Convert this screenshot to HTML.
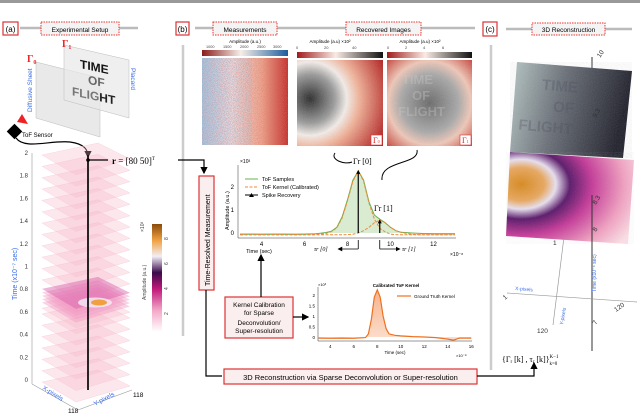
<!DOCTYPE html>
<html><head><meta charset="utf-8"><style>
html,body{margin:0;padding:0;background:#fff}
svg{display:block;font-family:"Liberation Sans",sans-serif}
</style></head><body>
<svg id="fig" width="640" height="415" viewBox="0 0 640 415" xmlns="http://www.w3.org/2000/svg">
<defs>
<filter id="noise" x="0" y="0" width="100%" height="100%"><feTurbulence type="fractalNoise" baseFrequency="0.9" numOctaves="2" seed="3"/><feColorMatrix type="saturate" values="0"/><feComponentTransfer><feFuncA type="table" tableValues="0 0.35"/></feComponentTransfer></filter>
<filter id="noise2" x="0" y="0" width="100%" height="100%"><feTurbulence type="fractalNoise" baseFrequency="1.2" numOctaves="1" seed="7"/><feColorMatrix type="matrix" values="0 0 0 0 0.75  0 0 0 0 0.15  0 0 0 0 0.15  1.4 0 0 0 -0.55"/></filter>
<filter id="noise3" x="0" y="0" width="100%" height="100%"><feTurbulence type="fractalNoise" baseFrequency="1.1" numOctaves="1" seed="11"/><feColorMatrix type="matrix" values="0 0 0 0 0.2  0 0 0 0 0.45  0 0 0 0 0.75  1.4 0 0 0 -0.6"/></filter>
<linearGradient id="measG" x1="0" x2="1"><stop offset="0" stop-color="#a9c8e0"/><stop offset="0.35" stop-color="#ece0e0"/><stop offset="0.7" stop-color="#eaa58c"/><stop offset="1" stop-color="#c0322c"/></linearGradient>
<linearGradient id="cbMeas" x1="0" x2="1"><stop offset="0" stop-color="#8c1a1a"/><stop offset="0.45" stop-color="#f5efe8"/><stop offset="1" stop-color="#1d5c9c"/></linearGradient>
<linearGradient id="cbRec" x1="0" x2="1"><stop offset="0" stop-color="#a01c1c"/><stop offset="0.45" stop-color="#f9ebe4"/><stop offset="1" stop-color="#111"/></linearGradient>
<radialGradient id="g0" cx="0.15" cy="0.45" r="0.95"><stop offset="0" stop-color="#2a2a2a"/><stop offset="0.3" stop-color="#9a9a9a"/><stop offset="0.45" stop-color="#f4eeea"/><stop offset="0.6" stop-color="#f2b49a"/><stop offset="1" stop-color="#b3201f"/></radialGradient>
<radialGradient id="g1" cx="0.5" cy="0.5" r="0.75"><stop offset="0" stop-color="#6a6a6a"/><stop offset="0.45" stop-color="#a8a8a8"/><stop offset="0.65" stop-color="#f0c8b8"/><stop offset="1" stop-color="#c02a22"/></radialGradient>
<linearGradient id="cbLeft" x1="0" y1="1" x2="0" y2="0"><stop offset="0" stop-color="#fff"/><stop offset="0.2" stop-color="#f3a8c8"/><stop offset="0.4" stop-color="#c0187a"/><stop offset="0.55" stop-color="#3a0a4a"/><stop offset="0.7" stop-color="#f2eef5"/><stop offset="0.85" stop-color="#f0a040"/><stop offset="1" stop-color="#8a4a08"/></linearGradient>
<linearGradient id="grayR" x1="0" x2="1" y1="0" y2="0.2"><stop offset="0" stop-color="#b8c8c6"/><stop offset="0.45" stop-color="#6a7078"/><stop offset="1" stop-color="#1e1e2a"/></linearGradient>
<radialGradient id="pinkR" cx="0.12" cy="0.35" r="1"><stop offset="0" stop-color="#d88a20"/><stop offset="0.18" stop-color="#e8a860"/><stop offset="0.27" stop-color="#e8e0f0"/><stop offset="0.38" stop-color="#5a1a6a"/><stop offset="0.55" stop-color="#c43a98"/><stop offset="0.8" stop-color="#f0a0c0"/><stop offset="1" stop-color="#fbe0e6"/></radialGradient>
<linearGradient id="kfill" x1="0" x2="0" y1="0" y2="1"><stop offset="0" stop-color="#f5a070"/><stop offset="1" stop-color="#fbd6c0"/></linearGradient>
<marker id="ah" markerWidth="6" markerHeight="6" refX="5" refY="3" orient="auto"><path d="M0,0 L6,3 L0,6z" fill="#000"/></marker>
</defs>
<rect width="640" height="415" fill="#fff"/>
<rect x="0" y="0" width="640" height="3" fill="#999"/>

<g font-size="8">
<line x1="20" y1="28" x2="138" y2="28" stroke="#bbb" stroke-width="2.5"/>
<rect x="3" y="22" width="15" height="13" fill="#fff" stroke="#d33" stroke-width="1.2"/><text x="10.5" y="32" text-anchor="middle" font-size="8">(a)</text>
<rect x="41" y="22" width="78" height="13" fill="#f4f4f4" stroke="#e33" stroke-dasharray="1.5,1"/><text x="80" y="32" text-anchor="middle" font-size="6.5">Experimental Setup</text>
<line x1="195" y1="28" x2="475" y2="28" stroke="#bbb" stroke-width="2.5"/>
<rect x="176" y="22" width="13" height="13" fill="#fff" stroke="#d33" stroke-width="1.2"/><text x="182.5" y="32" text-anchor="middle" font-size="8">(b)</text>
<rect x="213" y="22" width="64" height="13" fill="#f4f4f4" stroke="#e33" stroke-dasharray="1.5,1"/><text x="245" y="32" text-anchor="middle" font-size="6.5">Measurements</text>
<rect x="346" y="22" width="75" height="13" fill="#f4f4f4" stroke="#e33" stroke-dasharray="1.5,1"/><text x="383.5" y="32" text-anchor="middle" font-size="6.5">Recovered Images</text>
<line x1="506" y1="29" x2="632" y2="29" stroke="#bbb" stroke-width="2.5"/>
<rect x="483" y="22" width="14" height="14" fill="#fff" stroke="#d33" stroke-width="1.2"/><text x="490" y="32" text-anchor="middle" font-size="8">(c)</text>
<rect x="532" y="23" width="73" height="12" fill="#f4f4f4" stroke="#e33" stroke-dasharray="1.5,1"/><text x="568.5" y="32" text-anchor="middle" font-size="6.5">3D Reconstruction</text>
<line x1="183" y1="45" x2="183" y2="336" stroke="#ccc" stroke-width="2.5"/>
<line x1="491" y1="45" x2="491" y2="370" stroke="#ccc" stroke-width="2.5"/>
</g>

<g>
<polygon points="36,62 100,78 100,137 36,118" fill="#e4e4e4" fill-opacity="0.8" stroke="#bbb" stroke-width="0.5"/>
<polygon points="64,45 129,60 129,118 64,100" fill="#e8e8e8" fill-opacity="0.7" stroke="#bbb" stroke-width="0.5"/>
<g font-weight="bold" font-size="12" transform="skewY(12)">
<text x="80" y="51" fill="#111">TIME</text><text x="88" y="65" fill="#666">OF</text><text x="72" y="80" fill="#777">FLIG<tspan fill="#222">HT</tspan></text></g>
<text x="62" y="47" fill="#e22" font-family="Liberation Serif" font-size="10" font-weight="bold">Γ<tspan font-size="6" dy="2">1</tspan></text>
<text x="27" y="62" fill="#e22" font-family="Liberation Serif" font-size="10" font-weight="bold">Γ<tspan font-size="6" dy="2">0</tspan></text>
<text transform="translate(32,112) rotate(-90)" fill="#3a6ee8" font-size="6.5">Diffusive Sheet</text>
<text transform="translate(131,68) rotate(90)" fill="#3a6ee8" font-size="6.5">Placard</text>
<polygon points="17,122 22,114 28,124" fill="#e22"/>
<rect x="9" y="126" width="11" height="11" transform="rotate(45 14.5 131.5)" fill="#000"/>
<text x="22" y="137" font-size="6">ToF Sensor</text>
<path d="M16,138 C25,150 50,140 70,142 C85,144 88,150 88,157" stroke="#000" fill="none" stroke-width="1.2" marker-end="url(#ah)"/>
</g>

<g id="stack"></g>
<rect x="152" y="224" width="10" height="108" fill="url(#cbLeft)"/>
<g font-size="5" fill="#444">
<text transform="translate(168,240) rotate(-90)">8</text><text transform="translate(168,265) rotate(-90)">6</text><text transform="translate(168,290) rotate(-90)">4</text><text transform="translate(168,315) rotate(-90)">2</text>
<text transform="translate(146,300) rotate(-90)">Amplitude (a.u.)</text><text transform="translate(144,232) rotate(-90)">×10³</text></g>
<text transform="translate(17,300) rotate(-90)" fill="#3a6ee8" font-size="7">Time (x10⁻⁷ sec)</text>
<text transform="translate(42,389) rotate(32)" fill="#3a6ee8" font-size="6.5">X-pixels</text>
<text transform="translate(95,406) rotate(-28)" fill="#3a6ee8" font-size="6.5">Y-pixels</text>
<text x="68" y="413" font-size="6.5">118</text><text x="133" y="397" font-size="6.5">118</text>

<text x="112" y="164" font-family="Liberation Serif" font-size="9"><tspan font-weight="bold">r</tspan> = [80 50]<tspan font-size="5" dy="-4">T</tspan></text>
<circle cx="88" cy="160" r="1.8" fill="#000"/>
<path d="M88,160 H108 M178,160 H204 V173" stroke="#000" stroke-width="1.2" fill="none" marker-end="url(#ah)"/>
<rect x="199" y="176" width="15" height="114" fill="#fbeeee" stroke="#d33" stroke-width="1.2"/>
<text transform="translate(210,286) rotate(-90)" font-size="7">Time-Resolved Measurement</text>
<path d="M206,290 V376 H222" stroke="#000" stroke-width="1.2" fill="none"/>
<rect x="224" y="369" width="253" height="15" fill="#fbeeee" stroke="#d33" stroke-width="1.2"/>
<text x="350.5" y="380" text-anchor="middle" font-size="7.5">3D Reconstruction via Sparse Deconvolution or Super-resolution</text>
<path d="M477,376 H534 V363" stroke="#000" stroke-width="1.2" fill="none" marker-end="url(#ah)"/>
<rect x="225" y="297" width="68" height="41" fill="#fbeeee" stroke="#d33" stroke-width="1.2"/>
<g font-size="6.5" text-anchor="middle"><text x="259" y="307">Kernel Calibration</text><text x="259" y="315">for Sparse</text><text x="259" y="325">Deconvolution/</text><text x="259" y="333">Super-resolution</text></g>
<path d="M261,297 V255" stroke="#000" stroke-width="1.2" marker-end="url(#ah)"/>
<path d="M293,317 H308" stroke="#000" stroke-width="1.2" marker-end="url(#ah)"/>

<g>
<text x="245" y="43" text-anchor="middle" font-size="4.5">Amplitude (a.u.)</text>
<g font-size="3.8" fill="#444"><text x="206" y="48">1000</text><text x="223" y="48">1500</text><text x="240" y="48">2000</text><text x="257" y="48">2500</text><text x="273" y="48">3000</text></g>
<rect x="202" y="50" width="86" height="6" fill="url(#cbMeas)"/>
<rect x="202" y="58" width="86" height="87" fill="url(#measG)"/>
<rect x="202" y="58" width="86" height="87" filter="url(#noise2)"/>
<rect x="202" y="58" width="50" height="87" filter="url(#noise3)"/>
</g>
<g>
<text x="330" y="43" text-anchor="middle" font-size="4.5">Amplitude (a.u)   ×10²</text>
<g font-size="4" fill="#444"><text x="296" y="49">0</text><text x="324" y="49">20</text><text x="352" y="49">40</text></g>
<rect x="297" y="52" width="86" height="6" fill="url(#cbRec)"/>
<rect x="297" y="60" width="86" height="86" fill="url(#g0)"/>
<rect x="297" y="60" width="86" height="86" filter="url(#noise)" opacity="0.5"/>
<rect x="371" y="135" width="11" height="10" fill="#fff" stroke="#d33" stroke-width="0.6"/><text x="373" y="143" fill="#d22" font-family="Liberation Serif" font-size="8">Γ<tspan font-size="4">0</tspan></text>
</g>
<g>
<text x="420" y="43" text-anchor="middle" font-size="4.5">Amplitude (a.u)   ×10²</text>
<g font-size="4" fill="#444"><text x="387" y="49">0</text><text x="405" y="49">2</text><text x="423" y="49">4</text><text x="442" y="49">6</text></g>
<rect x="387" y="52" width="85" height="6" fill="url(#cbRec)"/>
<rect x="387" y="60" width="85" height="86" fill="url(#g1)"/>
<g fill="#ccc" font-weight="bold" font-size="13" opacity="0.35"><text x="402" y="84">TIME</text><text x="412" y="100">OF</text><text x="398" y="116">FLIGHT</text></g>
<rect x="387" y="60" width="85" height="86" filter="url(#noise)" opacity="0.5"/>
<rect x="460" y="135" width="11" height="10" fill="#fff" stroke="#d33" stroke-width="0.6"/><text x="462" y="143" fill="#d22" font-family="Liberation Serif" font-size="8">Γ<tspan font-size="4">1</tspan></text>
</g>
<path d="M335,153 C330,160 345,165 352,162" stroke="#000" fill="none" stroke-width="1"/>
<path d="M417,150 C420,165 380,160 382,180" stroke="#000" fill="none" stroke-width="1"/>

<g id="mainplot"></g>
<g id="kernplot"></g>

<g>
<line x1="592" y1="57" x2="592" y2="155" stroke="#333" stroke-width="1"/>
<polygon points="517,62 632,71 623,158 510,152" fill="url(#grayR)"/>
<g fill="#445" font-weight="bold" font-size="15" opacity="0.3" transform="rotate(5 570 110)"><text x="540" y="92">TIME</text><text x="553" y="113">OF</text><text x="520" y="134">FLIGHT</text></g>
<polygon points="517,62 632,71 623,158 510,152" filter="url(#noise)" opacity="0.5"/>
<polygon points="510,152 634,160 628,244 506,236" fill="url(#pinkR)"/>
<polygon points="510,152 634,160 628,244 506,236" filter="url(#noise)" opacity="0.3"/>
<line x1="592" y1="195" x2="592" y2="351" stroke="#333" stroke-width="1"/>
<line x1="507" y1="293" x2="637" y2="302" stroke="#999" stroke-width="0.7"/>
<line x1="564" y1="237" x2="553" y2="325" stroke="#999" stroke-width="0.7"/>
<g font-size="6.5" fill="#333"><text transform="translate(600,58) rotate(-55)">10</text><text transform="translate(596,118) rotate(-60)">9.3</text><text transform="translate(596,205) rotate(-60)">8.3</text><text transform="translate(596,232) rotate(-60)">8</text><text transform="translate(596,325) rotate(-60)">7</text><text x="553" y="245">1</text><text transform="translate(505,300) rotate(-40)">1</text><text x="537" y="333">120</text><text transform="translate(616,312) rotate(-35)">120</text></g>
<text transform="translate(515,290) rotate(5)" fill="#3a6ee8" font-size="5">X-pixels</text>
<text transform="translate(563,325) rotate(-80)" fill="#3a6ee8" font-size="5">Y-pixels</text>
<text transform="translate(596,292) rotate(-90)" fill="#3a6ee8" font-size="5">Time (x10⁻⁸ sec)</text>
<text x="502" y="362" font-family="Liberation Serif" font-size="8">{Γ<tspan font-size="5" dy="1">r</tspan><tspan dy="-1"> [k] , τ</tspan><tspan font-size="5" dy="1">r</tspan><tspan dy="-1"> [k]}</tspan><tspan font-size="5" dy="-4">K−1</tspan><tspan font-size="5" dx="-9" dy="7">k=0</tspan></text>
</g>

<script>
var NS="http://www.w3.org/2000/svg";
function mk(p,tag,a,txt){var e=document.createElementNS(NS,tag);for(var k in a)e.setAttribute(k,a[k]);if(txt!==undefined)e.textContent=txt;p.appendChild(e);return e;}
var sampleTimes=[3,3.5,4,4.5,5,5.5,6,6.5,7,7.25,7.5,7.75,8,8.25,8.5,8.75,9,9.25,9.5,9.75,10,10.25,10.5,11,11.5,12,12.5,13];
var sampleVals=[-0.05,-0.05,-0.06,-0.05,-0.05,-0.06,-0.05,-0.04,0.02,0.08,0.25,0.7,1.45,2.3,2.7,2.3,1.35,0.78,0.6,0.45,0.25,0.1,0.03,0,-0.02,-0.03,-0.03,-0.03];
var kernel0Vals=[-0.08,-0.08,-0.08,-0.08,-0.08,-0.08,-0.08,-0.07,-0.02,0.06,0.22,0.65,1.4,2.25,2.7,2.25,1.3,0.6,0.2,0.05,-0.05,-0.07,-0.08,-0.08,-0.08,-0.08,-0.08,-0.08];
var kernel1Vals=[-0.08,-0.08,-0.08,-0.08,-0.08,-0.08,-0.08,-0.08,-0.08,-0.08,-0.08,-0.08,-0.07,-0.05,0.0,0.1,0.25,0.45,0.55,0.45,0.25,0.1,0.02,-0.06,-0.08,-0.08,-0.08,-0.08];
var spikeTimes=[8.5,9.5];
var spikeAmps=[2.7,0.55];
var mainXTicks=[4,6,8,10,12];
var mainYTicks=[0,1,2];
var kernTimes=[3,4,5,6,7,7.25,7.5,7.75,8,8.25,8.5,8.75,9,9.5,10,11,12,13,14,14.5,15,16];
var kernVals=[-0.05,-0.06,-0.05,-0.06,-0.03,0.15,0.85,1.9,2.25,1.9,1.0,0.4,0.15,0.08,0.05,0.02,0,-0.03,-0.1,-0.15,-0.05,-0.05];
var kernXTicks=[4,6,8,10,12,14,16];
var kernYTicks=[0,0.5,1,1.5,2];
var kernYLabels=["0","0.5","1","1.5","2"];
var zTicks=[0,0.2,0.4,0.6,0.8,1,1.2,1.4,1.6,1.8,2];
var zLabels=["0","0.2","0.4","0.6","0.8","1","1.2","1.4","1.6","1.8","2"];
var planeLevels=[0,0.1,0.2,0.3,0.4,0.5,0.6,0.65,0.9,1.0,1.1,1.2,1.3,1.4,1.5,1.6,1.7,1.8,1.9,2.0];
var hotLevels=[0.7,0.73,0.76,0.79,0.82];

(function(){
 var g=document.getElementById('mainplot');
 var X=function(t){return 240+(t-3)*21.5;}, Y=function(v){return 233-v*23;};
 mk(g,'line',{x1:238,y1:165,x2:238,y2:238,stroke:'#333','stroke-width':0.5});
 mk(g,'line',{x1:238,y1:238,x2:456,y2:238,stroke:'#333','stroke-width':0.5});
 mainYTicks.forEach(function(v){var t=mk(g,'text',{x:234,y:Y(v)+2,'font-size':6,'text-anchor':'end'},String(v));});
 mainXTicks.forEach(function(v){var t=mk(g,'text',{x:X(v),y:246,'font-size':6,'text-anchor':'middle'},String(v));});
 mk(g,'text',{x:240,y:163,'font-size':5},'×10³');
 mk(g,'text',{x:450,y:256,'font-size':5},'×10⁻⁸');
 mk(g,'text',{x:259,y:253,'font-size':5.5,'text-anchor':'middle'},'Time (sec)');
 mk(g,'text',{transform:'translate(229,230) rotate(-90)','font-size':5.5},'Amplitude (a.u.)');
 function path(vals){return sampleTimes.map(function(t,i){return (i?'L':'M')+X(t).toFixed(1)+','+Y(vals[i]).toFixed(1);}).join(' ');}
 var area=mk(g,'path',{d:path(sampleVals)+' L'+X(13)+','+Y(0)+' L'+X(3)+','+Y(0)+'Z',fill:'#cfe6c4','fill-opacity':0.8});
 
 var s=mk(g,'path',{d:path(sampleVals),fill:'none',stroke:'#6ab04c','stroke-width':1});
 
 [kernel0Vals,kernel1Vals].forEach(function(v){var k=mk(g,'path',{d:path(v),fill:'none',stroke:'#f08a3a','stroke-width':1,'stroke-dasharray':'3,1.5'});
 });
 spikeTimes.forEach(function(t,i){var l=mk(g,'line',{x1:X(t),y1:Y(0),x2:X(t),y2:Y(spikeAmps[i]),stroke:'#000','stroke-width':1.2});
 
 mk(g,'polygon',{points:(X(t)-2)+','+(Y(spikeAmps[i])+3)+' '+(X(t)+2)+','+(Y(spikeAmps[i])+3)+' '+X(t)+','+(Y(spikeAmps[i])-1),fill:'#000'});
 mk(g,'line',{x1:X(t),y1:240,x2:X(t),y2:249,stroke:'#000','stroke-width':0.8});});
 mk(g,'line',{x1:245,y1:179,x2:258,y2:179,stroke:'#6ab04c'});mk(g,'text',{x:262,y:181,'font-size':5.5},'ToF Samples');
 mk(g,'line',{x1:245,y1:187,x2:258,y2:187,stroke:'#f08a3a','stroke-dasharray':'3,1.5'});mk(g,'text',{x:262,y:189,'font-size':5.5},'ToF Kernel (Calibrated)');
 mk(g,'line',{x1:245,y1:195,x2:258,y2:195,stroke:'#000'});mk(g,'polygon',{points:'249,197 254,197 251.5,193',fill:'#000'});mk(g,'text',{x:262,y:197,'font-size':5.5},'Spike Recovery');
 mk(g,'text',{x:353,y:164,'font-size':8,'font-family':'Liberation Serif'},'Γr [0]');
 mk(g,'text',{x:374,y:211,'font-size':8,'font-family':'Liberation Serif'},'Γr [1]');
 mk(g,'path',{d:'M'+X(8.5)+',249 H'+(X(8.5)-20),stroke:'#000','stroke-width':0.8,'marker-end':'url(#ah)'});
 mk(g,'path',{d:'M'+X(9.5)+',249 H'+(X(9.5)+20),stroke:'#000','stroke-width':0.8,'marker-end':'url(#ah)'});
 mk(g,'text',{x:314,y:251,'font-size':6,'font-family':'Liberation Serif','font-style':'italic'},'τr [0]');
 mk(g,'text',{x:402,y:251,'font-size':6,'font-family':'Liberation Serif','font-style':'italic'},'τr [1]');
})();

(function(){
 var g=document.getElementById('kernplot');
 var X=function(t){return 318.5+(t-3)*11.75;}, Y=function(v){return 337-v*21;};
 mk(g,'line',{x1:318,y1:287,x2:318,y2:341,stroke:'#333','stroke-width':0.5});
 mk(g,'line',{x1:318,y1:341,x2:472,y2:341,stroke:'#333','stroke-width':0.5});
 kernYTicks.forEach(function(v,i){var t=mk(g,'text',{x:315,y:Y(v)+2,'font-size':4.5,'text-anchor':'end'},kernYLabels[i]);});
 kernXTicks.forEach(function(v){var t=mk(g,'text',{x:X(v),y:348,'font-size':4.5,'text-anchor':'middle'},String(v));});
 mk(g,'text',{x:318,y:286,'font-size':4},'×10³');
 mk(g,'text',{x:456,y:357,'font-size':4},'×10⁻⁸');
 mk(g,'text',{x:395,y:354,'font-size':4.5,'text-anchor':'middle'},'Time (sec)');
 mk(g,'text',{x:396,y:287,'font-size':4.5,'font-weight':'bold','text-anchor':'middle'},'Calibrated ToF Kernel');
 mk(g,'line',{x1:397,y1:296,x2:411,y2:296,stroke:'#f07020','stroke-width':1.2});
 mk(g,'text',{x:414,y:298,'font-size':4.5},'Ground Truth Kernel');
 var d=kernTimes.map(function(t,i){return (i?'L':'M')+X(t).toFixed(1)+','+Y(kernVals[i]).toFixed(1);}).join(' ');
 var a=mk(g,'path',{d:d+' L'+X(16)+','+Y(0)+' L'+X(3)+','+Y(0)+'Z',fill:'url(#kfill)','fill-opacity':0.8});
 
 var l=mk(g,'path',{d:d,fill:'none',stroke:'#f07020','stroke-width':1.2});
 
})();

(function(){
 var g=document.getElementById('stack');
 var Z=function(z){return 380-z*113.5;};
 mk(g,'line',{x1:32,y1:Z(2),x2:32,y2:Z(0)+4,stroke:'#999','stroke-width':0.6});
 mk(g,'line',{x1:32,y1:Z(0)+4,x2:78,y2:Z(0)+30,stroke:'#999','stroke-width':0.6});
 mk(g,'line',{x1:78,y1:Z(0)+30,x2:132,y2:Z(0)+10,stroke:'#999','stroke-width':0.6});
 zTicks.forEach(function(z,i){var t=mk(g,'text',{x:28,y:Z(z)+2,'font-size':6,'text-anchor':'end',fill:'#333'},zLabels[i]);});
 function pts(z){var y=Z(z);return '42,'+(y+2)+' 98,'+(y-10)+' 130,'+(y+6)+' 76,'+(y+22);}
 planeLevels.forEach(function(z){var p=mk(g,'polygon',{points:pts(z),fill:'#f7b3c6','fill-opacity':0.32,stroke:'#f9ccd8','stroke-width':0.4});
 });
 hotLevels.forEach(function(z,i){var p=mk(g,'polygon',{points:pts(z),fill:i==hotLevels.length-1?'#d85aa8':'#f29cc4','fill-opacity':0.45});
 });
 mk(g,'ellipse',{cx:95,cy:Z(0.7)+2,rx:17,ry:5,fill:'#f4eef6','fill-opacity':0.8});
 mk(g,'ellipse',{cx:99,cy:Z(0.7)+2,rx:8,ry:3,fill:'#f0a040'});
 mk(g,'line',{x1:88,y1:Z(2)+2,x2:88,y2:Z(0)+10,stroke:'#111','stroke-width':1.8});
})();
</script>
</svg>
</body></html>
